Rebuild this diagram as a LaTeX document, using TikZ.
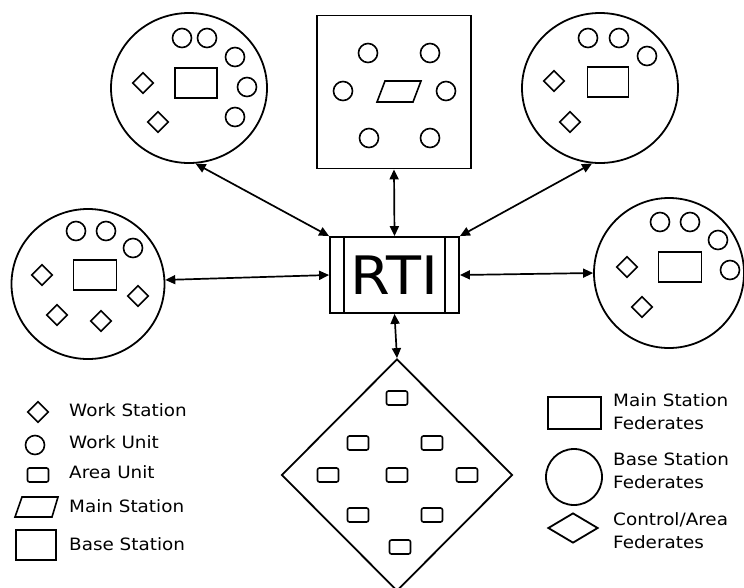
\documentclass[tikz,border=0pt]{standalone}
\usepackage{fontspec}
\setmainfont[FakeStretch=1.08]{DejaVu Sans}
\usetikzlibrary{arrows.meta,shapes.geometric}

\begin{document}
\begin{tikzpicture}[x=1pt,y=-1pt,
  every node/.style={inner sep=0pt},
  fed/.style={draw,ellipse,line width=1.8pt,minimum width=156pt,minimum height=150pt},
  wu/.style={draw,circle,line width=1.6pt,minimum size=19pt},
  ws/.style={draw,diamond,line width=1.6pt,minimum width=21pt,minimum height=21pt},
  au/.style={draw,rounded corners=2pt,line width=1.6pt,minimum width=21pt,minimum height=14pt},
  bs/.style={draw,line width=1.6pt,minimum width=42pt,minimum height=30pt},
  link/.style={{Triangle[length=10pt,width=9pt]}-{Triangle[length=10pt,width=9pt]},line width=1.7pt},
  lbl/.style={anchor=west,align=left,font=\fontsize{17}{23}\selectfont}]

\useasboundingbox (0,0) rectangle (744,587);

% base station federates
\node[fed] (tl) at (189,88) {};
\node[bs] (tlb) at (196,83) {};
\foreach \x/\y [count=\i] in {182/38,207/38,235/57,247/87,235/117} \node[wu] (tlu\i) at (\x,\y) {};
\foreach \x/\y [count=\i] in {143/83,158/122} \node[ws] (tlw\i) at (\x,\y) {};

\node[fed] (tr) at (600,88) {};
\node[bs,minimum width=41pt] (trb) at (608,82) {};
\foreach \x/\y [count=\i] in {588/38,619/38,647/56} \node[wu] (tru\i) at (\x,\y) {};
\foreach \x/\y [count=\i] in {554/81,570/122} \node[ws] (trw\i) at (\x,\y) {};

\node[fed,minimum width=153pt] (lc) at (88,284) {};
\node[bs,minimum width=43pt] (lcb) at (95,275) {};
\foreach \x/\y [count=\i] in {76/231,106/231,133/248} \node[wu] (lcu\i) at (\x,\y) {};
\foreach \x/\y [count=\i] in {42/275,138/296,57/315,101/321} \node[ws] (lcw\i) at (\x,\y) {};

\node[fed,minimum width=150pt] (rc) at (669,273) {};
\node[bs,minimum width=43pt] (rcb) at (680,267) {};
\foreach \x/\y [count=\i] in {660/222,690/222,718/240,730/270} \node[wu] (rcu\i) at (\x,\y) {};
\foreach \x/\y [count=\i] in {627/267,642/307} \node[ws] (rcw\i) at (\x,\y) {};

% main station federate
\node[draw,line width=1.8pt,minimum width=154pt,minimum height=153pt] (ms) at (394,92) {};
\foreach \x/\y [count=\i] in {368/53,430/53,343/91,446/91,369/138,430/138} \node[wu] (msu\i) at (\x,\y) {};
\draw[line width=1.6pt] (377,102) -- (385,81) -- (421,81) -- (413,102) -- cycle;

% control/area federate
\node[draw,diamond,line width=1.8pt,minimum width=231pt,minimum height=232pt] (ca) at (397,475) {};
\foreach \x/\y [count=\i] in {397/398,358/443,432/443,328/475,397/475,467/475,358/515,432/515,400/547}
  \node[au] (cau\i) at (\x,\y) {};

% RTI
\node[draw,line width=1.8pt,minimum width=129pt,minimum height=76pt,font=\fontsize{53}{53}\selectfont] (rti) at (394.5,275) {RTI};
\draw[line width=1.8pt] ([xshift=15pt]rti.north west) -- ([xshift=15pt]rti.south west);
\draw[line width=1.8pt] ([xshift=-15pt]rti.north east) -- ([xshift=-15pt]rti.south east);

\draw[link] (tl.-85) -- (rti.north west);
\draw[link] (ms.south) -- (rti.north);
\draw[link] (tr.-96) -- (rti.north east);
\draw[link] (lc.3) -- (rti.west);
\draw[link] (rc.180) -- (rti.east);
\draw[link] (rti.south) -- (ca.north);

% legend, left
\node[ws] (lgws) at (38,412) {};
\node[lbl] (lgws-t) at (69,410) {Work Station};
\node[wu] (lgwu) at (35,445) {};
\node[lbl] (lgwu-t) at (69,442) {Work Unit};
\node[au] (lgau) at (38,475) {};
\node[lbl] (lgau-t) at (69,472) {Area Unit};
\draw[line width=1.6pt] (15,517) -- (22,497) -- (58,497) -- (52,517) -- cycle;
\node[lbl] (lgms-t) at (69,506) {Main Station};
\node[draw,line width=1.6pt,minimum width=40pt,minimum height=30pt] (lgbs) at (36,545) {};
\node[lbl] (lgbs-t) at (69,544) {Base Station};

% legend, right
\node[draw,line width=1.8pt,minimum width=53pt,minimum height=32pt] (lgmf) at (574.5,413) {};
\node[lbl] (lgmf-t) at (613,411.5) {Main Station\\Federates};
\node[draw,circle,line width=1.8pt,minimum size=56pt] (lgbf) at (574,477) {};
\node[lbl] (lgbf-t) at (613,470.5) {Base Station\\Federates};
\node[draw,diamond,line width=1.8pt,minimum width=50pt,minimum height=30pt] (lgcf) at (573,528) {};
\node[lbl] (lgcf-t) at (613,530.5) {Control/Area\\Federates};
\end{tikzpicture}
\end{document}
